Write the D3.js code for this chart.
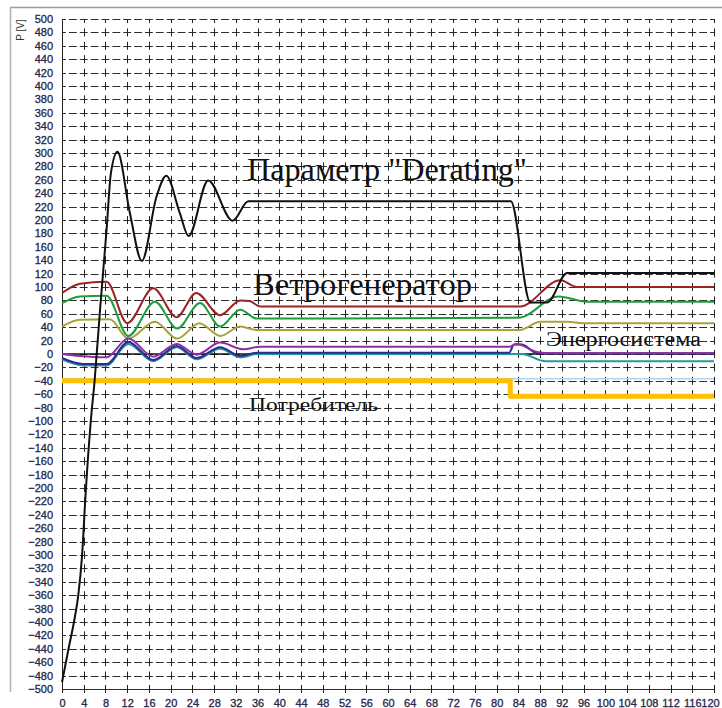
<!DOCTYPE html>
<html>
<head>
<meta charset="utf-8">
<script src="https://cdn.jsdelivr.net/npm/d3@7/dist/d3.min.js"></script>
<style>
  html, body { margin: 0; padding: 0; background: #fff; }
  svg { display: block; }
</style>
</head>
<body>
<svg id="chart" width="722" height="708"></svg>
<script>
// Time axis (s) and power axis (P [V]) ticks
const xTicks = d3.range(0, 121, 4);
const yTicks = d3.range(-500, 501, 20);

// Derating parameter curve
const derating = [[0,-490],[1.2,-440],[2.2,-400],[3.0,-360],[3.7,-300],[4.3,-215],[5.3,-100],[6.0,-40],[7.0,66],[8.2,185],[9.0,270],[10.2,302],[12.5,210],[14.7,139],[17.4,235],[19.2,266],[21.7,210],[23.3,176],[26.9,259],[31.4,199],[34.3,228],[82.6,228],[86.2,77],[89.3,77],[93.0,121],[120,121]];
// Wind generator quantities
const windRed    = [[0,91],[3.3,105],[8.2,108],[12,46],[16.8,98],[21.1,55],[24.7,91],[29.1,58],[32.8,80],[34.5,79],[36.5,71],[84.3,71],[91.7,110],[94.8,100],[120,100]];
const windGreen  = [[0,76],[3.3,86],[8.2,87],[12.2,27],[17.1,78],[21.2,38],[25.4,76],[29.1,41],[32.8,66],[35.8,53],[84,54],[91.4,86],[96.6,78],[120,78]];
const windOlive  = [[0,41],[3.3,51],[8.8,52],[12.2,23],[17.1,48],[21.2,23],[25.3,46],[29.1,27],[32.8,41],[35.8,36],[84.3,36],[88,48],[93,48],[96,46],[120,46]];
// Grid (power system) quantities
const gridPurple = [[0,0],[3.3,-3],[8.2,-5],[12.2,23],[16.8,-4],[21.1,15],[24.8,-1],[29.1,17],[33.4,7],[36.5,11],[82.3,11],[83.7,15],[87.4,3],[90,1],[120,1]];
const gridNavy   = [[0,-6],[3.9,-15],[8.2,-15],[12.2,18],[16.8,-9],[21.1,12],[24.8,-6],[29.1,10],[32.8,-3],[36,2],[82.3,2],[83.2,14],[84.6,14],[87.5,1],[120,1]];
const gridTeal   = [[0,-8],[3.9,-17],[8.2,-17],[12.2,15],[16.8,-11],[21.1,10],[24.8,-8],[29.1,8],[32.8,-5],[36,0],[84.6,0],[89,-11],[120,-11]];
const zeroLine   = [[0,0],[120,0]];
const lightBlue  = [[0,-37],[120,-37]];
// Consumer load (step)
const consumer   = [[0,-40],[82.5,-40],[82.5,-63],[120,-63]];

const svg = d3.select("#chart");
const x = d3.scaleLinear().domain([0, 120]).range([62, 714]);
const y = d3.scaleLinear().domain([-500, 500]).range([689, 19]);

// outer frame
svg.append("line").attr("x1", 10).attr("x2", 722).attr("y1", 7.5).attr("y2", 7.5)
  .attr("stroke", "#9a9a9a").attr("stroke-width", 1.5);
svg.append("line").attr("x1", 10.5).attr("x2", 10.5).attr("y1", 7).attr("y2", 692)
  .attr("stroke", "#b0b0b0").attr("stroke-width", 1.5);

// grid
const g = svg.append("g");
const hPeriod = (x(4) - x(0)) / 2;
const vPeriod = y(480) - y(500);
g.selectAll("line.h").data(yTicks).join("line")
  .attr("x1", x(0)).attr("x2", x(120))
  .attr("y1", d => Math.round(y(d)) + 0.5).attr("y2", d => Math.round(y(d)) + 0.5)
  .attr("stroke", "#2e2e2e").attr("stroke-width", 1)
  .attr("stroke-dasharray", d => d === -500 ? null : `${hPeriod - 3},3`)
  .attr("stroke-dashoffset", (hPeriod - 3) / 2);
g.selectAll("line.v").data(xTicks).join("line")
  .attr("x1", d => Math.round(x(d)) + 0.5).attr("x2", d => Math.round(x(d)) + 0.5)
  .attr("y1", y(500)).attr("y2", y(-500) + 4)
  .attr("stroke", "#222").attr("stroke-width", 1)
  .attr("stroke-dasharray", d => d === 0 ? null : `8,${vPeriod - 8}`)
  .attr("stroke-dashoffset", 4);

// axes labels
const axL = d3.axisLeft(y).tickValues(yTicks).tickSize(0).tickPadding(9);
const axB = d3.axisBottom(x).tickValues(xTicks).tickSize(0).tickPadding(10);
const gl = svg.append("g").attr("transform", `translate(${x(0)},0)`).call(axL);
const gb = svg.append("g").attr("transform", `translate(0,${y(-500)})`).call(axB);
[gl, gb].forEach(a => {
  a.select(".domain").remove();
  a.selectAll("text").attr("font-family", "Liberation Sans, Arial, sans-serif")
    .attr("font-size", 11).attr("fill", "#26264e")
    .attr("stroke", "#26264e").attr("stroke-width", 0.3);
});
// keep the last time label inside the frame
gb.selectAll(".tick").filter(d => d === 120).select("text").attr("dx", -4);
svg.append("text").attr("transform", "translate(24,30) rotate(-90)")
  .attr("text-anchor", "middle").attr("font-family", "Liberation Sans, Arial, sans-serif")
  .attr("font-size", 10).attr("fill", "#333").text("P [V]");

// series
const smooth = d3.line().x(d => x(d[0])).y(d => y(d[1])).curve(d3.curveMonotoneX);
const straight = d3.line().x(d => x(d[0])).y(d => y(d[1]));
const series = [
  { data: lightBlue,  color: "#b4d2ee", w: 1.5, gen: straight },
  { data: consumer,   color: "#ffc000", w: 5,   gen: straight },
  { data: windOlive,  color: "#a6a33c", w: 2,   gen: smooth },
  { data: windGreen,  color: "#1f9c3c", w: 2,   gen: smooth },
  { data: windRed,    color: "#9c2224", w: 2,   gen: smooth },
  { data: zeroLine,   color: "#111",    w: 1.5, gen: straight },
  { data: gridTeal,   color: "#27989e", w: 2,   gen: smooth },
  { data: gridNavy,   color: "#2a2c8e", w: 2,   gen: smooth },
  { data: gridPurple, color: "#8e2ea6", w: 2,   gen: smooth },
  { data: derating,   color: "#111",    w: 2,   gen: smooth }
];
svg.append("g").selectAll("path").data(series).join("path")
  .attr("d", s => s.gen(s.data))
  .attr("fill", "none").attr("stroke", s => s.color).attr("stroke-width", s => s.w)
  .attr("stroke-linejoin", "round");

// annotations
const serif = "Liberation Serif, Times New Roman, serif";
const notes = [
  { text: "Параметр \"Derating\"", x: 247, y: 180, size: 31, len: 280 },
  { text: "Ветрогенератор", x: 253, y: 295, size: 31, len: 219 },
  { text: "Энергосистема", x: 546, y: 346, size: 20, len: 155 },
  { text: "Потребитель", x: 249, y: 411, size: 19, len: 129 }
];
svg.append("g").selectAll("text").data(notes).join("text")
  .attr("x", d => d.x).attr("y", d => d.y)
  .attr("font-family", serif).attr("font-size", d => d.size).attr("fill", "#111")
  .attr("textLength", d => d.len).attr("lengthAdjust", "spacingAndGlyphs")
  .text(d => d.text);
</script>
</body>
</html>
